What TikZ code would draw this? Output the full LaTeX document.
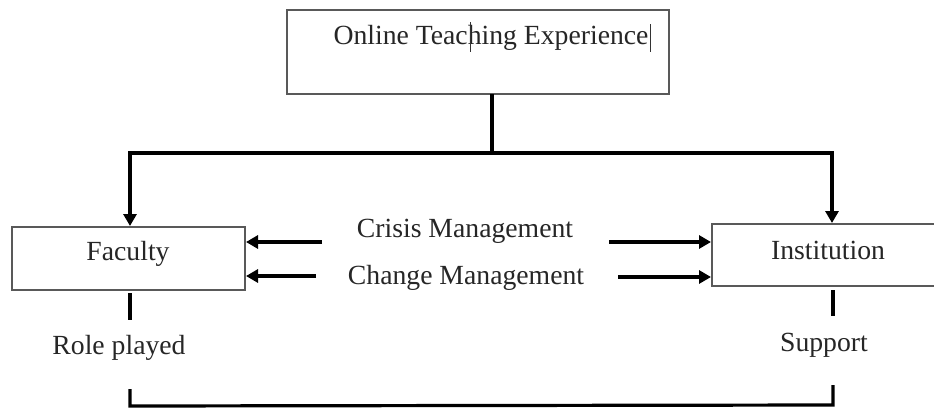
\documentclass[tikz,border=0pt]{standalone}
\usepackage{fontspec}
\setmainfont{Liberation Serif}
\usetikzlibrary{arrows.meta}
\begin{document}
\begin{tikzpicture}[x=1pt,y=-1pt,
  lbl/.style={font=\fontsize{27.7}{32}\selectfont, text=black!85, inner sep=0pt},
  boxframe/.style={draw=black!65, line width=1.5pt, fill=white},
  link/.style={line width=3.2pt, black},
  arr/.style={link, -{Triangle[length=12pt,width=13pt]}, shorten >=1pt},
  cursor/.style={line width=1pt, black!80}]
  \useasboundingbox[fill=white] (0,0) rectangle (934,410);

  % boxes
  \draw[boxframe] (287,10) rectangle (669,94);
  \draw[boxframe] (12,227) rectangle (245,290);
  \draw[boxframe] (712,224) rectangle (945,286);

  % box anchors
  \coordinate (topb) at (492,94);
  \coordinate (fork) at (492,153);
  \coordinate (facT) at (130,227);
  \coordinate (insT) at (832,224);
  \coordinate (facR) at (245,0);
  \coordinate (insL) at (712,0);

  % labels
  \node[lbl] (ote) at (491,38) {Online Teaching Experience};
  \node[lbl] (fac) at (128,254) {Faculty};
  \node[lbl] (ins) at (828,250) {Institution};
  \node[lbl] (crisis) at (465,231) {Crisis Management};
  \node[lbl] (change) at (466,278) {Change Management};
  \node[lbl] (role) at (119,348) {Role played};
  \node[lbl] (supp) at (824,345) {Support};

  % text cursor marks
  \draw[cursor] (470,22) -- (470,52);
  \draw[cursor] (650,24) -- (650,52);

  % tree from the top box
  \draw[link] (topb) -- (fork);
  \draw[arr] (fork) -- (130,153) -- (facT);
  \draw[arr] (fork) -- (832,153) -- (insT);

  % management arrows
  \coordinate (c1) at (322,242);
  \coordinate (c2) at (316,276);
  \coordinate (c3) at (609,242);
  \coordinate (c4) at (618,277);
  \draw[arr] (c1) -- (c1 -| facR);
  \draw[arr] (c2) -- (c2 -| facR);
  \draw[arr] (c3) -- (c3 -| insL);
  \draw[arr] (c4) -- (c4 -| insL);

  % short ticks below the boxes
  \coordinate (fd1) at (130,293);
  \coordinate (fd2) at (130,320);
  \coordinate (id1) at (833,290);
  \coordinate (id2) at (833,316);
  \draw[link] (fd1) -- (fd2);
  \draw[link] (id1) -- (id2);

  % bottom bracket
  \coordinate (bl) at (130,389);
  \coordinate (br) at (833,385);
  \draw[link] (bl) -- (130,406) -- (833,405) -- (br);
\end{tikzpicture}
\end{document}
